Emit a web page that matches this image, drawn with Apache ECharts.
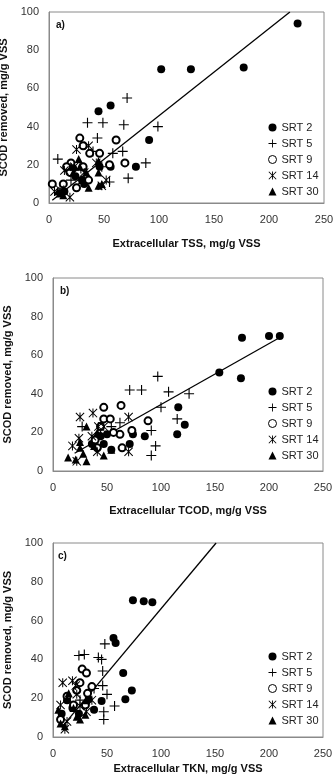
<!DOCTYPE html>
<html>
<head>
<meta charset="utf-8">
<script src="https://cdn.jsdelivr.net/npm/echarts@6/dist/echarts.min.js"></script>
<style>
  html, body { margin: 0; padding: 0; background: #fff; }
  #chart { width: 335px; height: 782px; }
</style>
</head>
<body>
<div id="chart"></div>
<script>
// legend names
const srtNames = ['SRT 2', 'SRT 5', 'SRT 9', 'SRT 14', 'SRT 30']
const panelLabels = ['a)', 'b)', 'c)']
const xTitles = ['Extracellular TSS, mg/g VSS', 'Extracellular TCOD, mg/g VSS', 'Extracellular TKN, mg/g VSS']
const yTitle = 'SCOD removed, mg/g VSS'

// panel a) TSS
const a_srt2 = [[226,94],[102,70],[129,70],[177,71],[45,48],[56,51],[91,33],[79,19],[56,19],[46,19],[24,14],[30,12],[32,10],[22,18],[14,6]]
const a_srt5 = [[71,55],[35,42],[49,42],[68,41],[99,40],[44,34],[67,27],[88,21],[72,13],[8,23],[55,11],[48,19],[40,27],[58,26],[29,18],[20,12]]
const a_srt9 = [[28,34],[61,33],[69,21],[3,10],[13,10],[31,30],[37,26],[46,26],[20,21],[36,12],[25,8],[16,19],[55,20],[31,19],[19,16]]
const a_srt14 = [[25,28],[36,30],[14,17],[23,19],[5,6],[19,3],[52,12],[48,9],[32,16],[10,7],[43,21]]
const a_srt30 = [[27,23],[20,19],[28,19],[45,22],[45,16],[36,8],[45,9],[48,10],[30,12],[8,6],[10,5],[13,4],[34,16],[22,16]]
const a_fit = [[3,1.5],[219,100]]

// panel b) TCOD
const b_srt2 = [[210,70],[200,70],[175,69],[154,51],[174,48],[116,33],[122,24],[115,19],[85,18],[74,19],[71,14],[54,11],[50,19],[36,14],[47,14],[44,18]]
const b_srt5 = [[97,49],[71,42],[82,42],[107,41],[126,40],[100,33],[115,27],[62,25],[91,21],[95,13],[91,8],[27,23],[54,23],[44,19]]
const b_srt9 = [[47,33],[63,34],[47,27],[53,27],[88,26],[62,19],[64,12],[44,23],[39,16],[56,20],[73,21],[41,12]]
const b_srt14 = [[25,28],[37,30],[70,28],[24,17],[42,23],[70,10],[22,5],[18,13],[36,18],[47,23],[41,10]]
const b_srt30 = [[31,23],[41,20],[25,15],[14,7],[21,6],[31,5],[47,8],[28,9],[44,19],[25,12],[38,13],[54,11]]
const b_fit = [[20,9.2],[210,69.2]]

// panel c) TKN
const c_srt2 = [[74,70.5],[84,70],[92,69.5],[56,51],[58,48.5],[65,33],[73,24],[67,19.5],[45,18.5],[38,14],[33,19.5],[18,15],[13,19],[24,12],[8,12]]
const c_srt5 = [[24,42],[29,42.5],[42,41],[45,40],[48,48],[46,34],[46,26.5],[50,22],[57,16],[47,13],[47,9],[38,25],[25,19]]
const c_srt9 = [[27,35],[31,33],[25,28],[36,26],[13,21],[22,24],[32,22.5],[19,16.5],[7,9],[30,16.5]]
const c_srt14 = [[9,28],[18,29],[21,26.5],[7,16.5],[25,16],[31,13],[11,4],[13,8],[36,19],[22,22]]
const c_srt30 = [[13,20],[14.5,22.5],[7,7],[11,5.5],[25,9],[19,15],[5,14],[30,11.5],[31,19],[22,10.5]]
const c_fit = [[8,5],[151,100]]

const panelData = [
  [a_srt2, a_srt5, a_srt9, a_srt14, a_srt30, a_fit],
  [b_srt2, b_srt5, b_srt9, b_srt14, b_srt30, b_fit],
  [c_srt2, c_srt5, c_srt9, c_srt14, c_srt30, c_fit]
]

// marker shapes for each SRT
const plusPath = 'path://M4,0H5V4H9V5H5V9H4V5H0V4H4Z'
const starPath = 'path://M4,0H5V9H4Z M0,0.7L0.7,0L9,8.3L8.3,9Z M9,0.7L0.7,9L0,8.3L8.3,0Z'
const symbols = ['circle', plusPath, 'emptyCircle', starPath, 'triangle']
const sizes = [8, 10, 7, 9, 8]

const grids = [
  {left: 49, top: 12, width: 275, height: 191},
  {left: 53, top: 278, width: 270, height: 193},
  {left: 53, top: 543, width: 270, height: 194}
]
const xNameGaps = [35, 34, 26]
const yNameGaps = [35, 39, 40]
const legendTops = [122, 386, 651]
const labelPos = [[56, 20], [60, 286], [58, 551]]

const font = 'Liberation Sans, Arial, sans-serif'
let xAxes = [], yAxes = [], series = [], legends = [], graphics = []

grids.forEach(function (g, i) {
  g.show = true
  g.borderColor = '#8a8a8a'
  g.borderWidth = 1
  g.containLabel = false
  g.outerBoundsMode = 'none'
  xAxes.push({
    gridIndex: i, type: 'value', min: 0, max: 250, interval: 50,
    name: xTitles[i], nameLocation: 'middle', nameGap: xNameGaps[i],
    nameTextStyle: {fontFamily: font, fontSize: 11, fontWeight: 'bold', color: '#111'},
    axisLine: {show: true, lineStyle: {color: '#8a8a8a'}},
    axisTick: {show: false}, splitLine: {show: false},
    axisLabel: {fontFamily: font, fontSize: 11, color: '#333', margin: 11}
  })
  yAxes.push({
    gridIndex: i, type: 'value', min: 0, max: 100, interval: 20,
    name: yTitle, nameLocation: 'middle', nameGap: yNameGaps[i],
    nameTextStyle: {fontFamily: font, fontSize: 11, fontWeight: 'bold', color: '#111'},
    axisLine: {show: true, lineStyle: {color: '#8a8a8a'}},
    axisTick: {show: false}, splitLine: {show: false},
    axisLabel: {fontFamily: font, fontSize: 11, color: '#333', margin: 10}
  })
  const d = panelData[i]
  // trend line
  series.push({
    type: 'line', xAxisIndex: i, yAxisIndex: i, data: d[5],
    symbol: 'none', silent: true, z: 1,
    lineStyle: {color: '#000', width: 1.3}
  })
  for (let k = 0; k < 5; k++) {
    series.push({
      name: srtNames[k], type: 'scatter', xAxisIndex: i, yAxisIndex: i,
      data: d[k], symbol: symbols[k], symbolSize: sizes[k], z: 3,
      itemStyle: k === 2
        ? {color: '#000', borderColor: '#000', borderWidth: 0.8, opacity: 1}
        : {color: '#000', borderWidth: 0, opacity: 1}
    })
  }
  legends.push({
    data: srtNames.map(function (n, k) {
      return k === 2
        ? {name: n, icon: 'circle', itemStyle: {color: '#ffffff', borderColor: '#000000', borderWidth: 1}}
        : {name: n}
    }),
    orient: 'vertical', left: 268, top: legendTops[i],
    padding: 0, itemGap: 5, itemWidth: 8, itemHeight: 8,
    selectedMode: false,
    textStyle: {fontFamily: font, fontSize: 11, color: '#222'}
  })
  graphics.push({
    type: 'text', left: labelPos[i][0], top: labelPos[i][1],
    style: {text: panelLabels[i], font: 'bold 10px ' + font, fill: '#111'}
  })
})

let chart = echarts.init(document.getElementById('chart'))
chart.setOption({
  animation: false,
  backgroundColor: '#fff',
  grid: grids,
  xAxis: xAxes,
  yAxis: yAxes,
  legend: legends,
  graphic: graphics,
  series: series
})
</script>
</body>
</html>
